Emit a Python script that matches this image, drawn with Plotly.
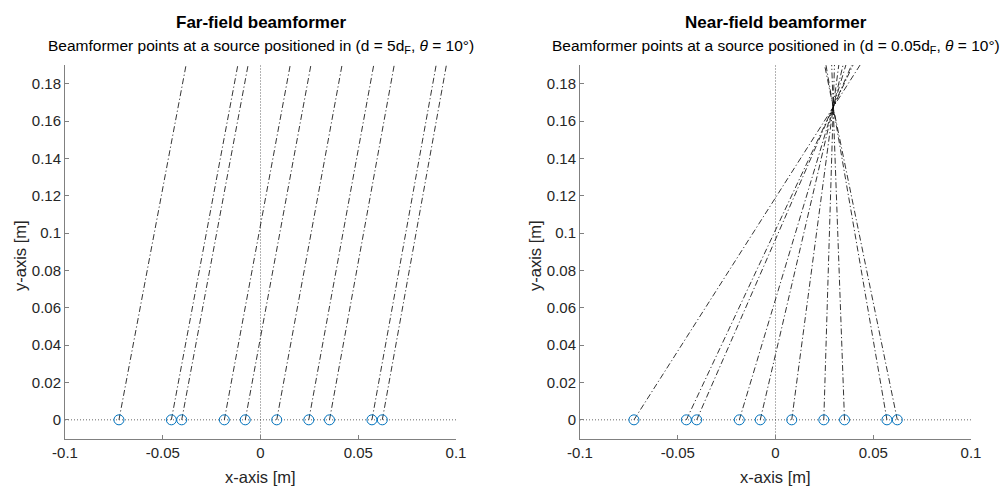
import numpy as np
import plotly.graph_objects as go

# Microphone x-positions [m] (all at y = 0)
mic_x = [-0.0724, -0.0456, -0.0403, -0.0185, -0.0078, 0.0083, 0.0247, 0.0353, 0.0570, 0.0623]
mic_y = [0, 0, 0, 0, 0, 0, 0, 0, 0, 0]

# Source parameters
d_F = 3.4              # Fraunhofer distance [m]
far_factor = 5         # d = 5 d_F
near_factor = 0.05     # d = 0.05 d_F
theta_deg = 10         # source angle from broadside
extend_near = 1.6      # how far beyond the source the near-field rays are drawn

x_ticks = [-0.1, -0.05, 0, 0.05, 0.1]
x_tick_text = ["-0.1", "-0.05", "0", "0.05", "0.1"]
y_ticks = [0, 0.02, 0.04, 0.06, 0.08, 0.1, 0.12, 0.14, 0.16, 0.18]
y_tick_text = ["0", "0.02", "0.04", "0.06", "0.08", "0.1", "0.12", "0.14", "0.16", "0.18"]

titles = ["Far-field beamformer", "Near-field beamformer"]
subtitles = [
    "Beamformer points at a source positioned in (d = 5d<sub>F</sub>, <i>θ</i> = 10°)",
    "Beamformer points at a source positioned in (d = 0.05d<sub>F</sub>, <i>θ</i> = 10°)",
]
x_label = "x-axis [m]"
y_label = "y-axis [m]"

xlim = [-0.1, 0.1]
ylim = [-0.01, 0.19]

W, H = 1005, 486
dom_x = [[65 / W, 456 / W], [580 / W, 971 / W]]
dom_y = [(H - 438.5) / H, (H - 65) / H]

FONT = "Liberation Sans, Arial, Helvetica, sans-serif"
AXC = "#808080"
TXT = "#262626"
MIC_C = "#0072BD"
DASHDOT = "6px,2.5px,1.2px,2.5px"

fig = go.Figure()

th = np.deg2rad(theta_deg)
configs = [(far_factor, 1.0), (near_factor, extend_near)]

for i, (factor, ext) in enumerate(configs):
    xa = "x" if i == 0 else "x2"
    ya = "y" if i == 0 else "y2"
    r = factor * d_F
    sx, sy = r * np.sin(th), r * np.cos(th)
    # reference dotted axes lines
    fig.add_trace(go.Scatter(x=[0, 0], y=ylim, mode="lines", xaxis=xa, yaxis=ya,
                             line=dict(color="black", width=0.6, dash="1px,2px"),
                             showlegend=False, hoverinfo="skip"))
    fig.add_trace(go.Scatter(x=xlim, y=[0, 0], mode="lines", xaxis=xa, yaxis=ya,
                             line=dict(color="black", width=0.6, dash="1px,2px"),
                             showlegend=False, hoverinfo="skip"))
    # rays from each mic toward the source
    for mx, my in zip(mic_x, mic_y):
        ex = mx + (sx - mx) * ext
        ey = my + (sy - my) * ext
        fig.add_trace(go.Scatter(x=[mx, ex], y=[my, ey], mode="lines", xaxis=xa, yaxis=ya,
                                 line=dict(color="black", width=0.8, dash=DASHDOT),
                                 showlegend=False, hoverinfo="skip"))
    # microphones
    fig.add_trace(go.Scatter(x=mic_x, y=mic_y, mode="markers", xaxis=xa, yaxis=ya,
                             marker=dict(symbol="circle-open", size=10, color=MIC_C,
                                         line=dict(width=1, color=MIC_C)),
                             showlegend=False, cliponaxis=False))

axis_common = dict(showgrid=False, zeroline=False, showline=True, linecolor=AXC,
                   linewidth=1, ticks="inside", ticklen=4, tickcolor=AXC, tickwidth=1,
                   mirror=False, automargin=False,
                   tickfont=dict(family=FONT, size=15, color=TXT))

for i in range(2):
    xk = "xaxis" if i == 0 else "xaxis2"
    yk = "yaxis" if i == 0 else "yaxis2"
    fig.update_layout(**{
        xk: dict(axis_common, domain=dom_x[i], range=xlim, tickvals=x_ticks,
                 ticktext=x_tick_text, anchor="y" if i == 0 else "y2"),
        yk: dict(axis_common, domain=dom_y, range=ylim, tickvals=y_ticks,
                 ticktext=y_tick_text, anchor="x" if i == 0 else "x2"),
    })
    cx = (dom_x[i][0] + dom_x[i][1]) / 2
    fig.add_annotation(text="<b>" + titles[i] + "</b>", x=cx, y=(H - 22) / H,
                       xref="paper", yref="paper", showarrow=False,
                       xanchor="center", yanchor="middle",
                       font=dict(family=FONT, size=17, color="black"))
    fig.add_annotation(text=subtitles[i], x=cx, y=(H - 46) / H,
                       xref="paper", yref="paper", showarrow=False,
                       xanchor="center", yanchor="middle",
                       font=dict(family=FONT, size=15.5, color="black"))
    fig.add_annotation(text=x_label, x=cx, y=(H - 477) / H,
                       xref="paper", yref="paper", showarrow=False,
                       xanchor="center", yanchor="middle",
                       font=dict(family=FONT, size=16.5, color=TXT))
    fig.add_annotation(text=y_label, x=(dom_x[i][0] * W - 45) / W, y=(H - 256) / H,
                       xref="paper", yref="paper", showarrow=False, textangle=-90,
                       xanchor="center", yanchor="middle",
                       font=dict(family=FONT, size=16.5, color=TXT))

fig.update_layout(width=W, height=H, margin=dict(l=0, r=0, t=0, b=0),
                  paper_bgcolor="white", plot_bgcolor="white", showlegend=False)

fig.write_html("out.html", config={"displayModeBar": False},
               post_script="document.body.style.margin='0';document.body.style.overflow='hidden';")
